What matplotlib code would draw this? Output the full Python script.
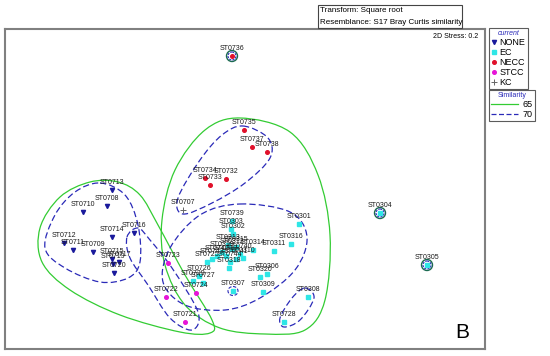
import numpy as np
import matplotlib.pyplot as plt
from matplotlib.path import Path
from matplotlib.patches import PathPatch, Ellipse
from matplotlib.lines import Line2D

plt.rcParams['font.family'] = ['Liberation Sans', 'DejaVu Sans']

# nMDS coordinates (arbitrary units, y grows downward)
none_names = ['ST0713', 'ST0708', 'ST0710', 'ST0714', 'ST0716', 'ST0712',
              'ST0711', 'ST0709', 'ST0715', 'ST0719', 'ST0717', 'ST0720']
none_x = [112, 107, 83, 112, 134, 64, 73, 93, 112, 113, 119, 114]
none_y = [190, 206, 212, 237, 233, 243, 250, 252, 259, 264, 262, 273]

ec_names = ['ST0739', 'ST0303', 'ST0302', 'ST0301', 'ST0316', 'ST0311',
            'ST0314', 'ST0740', 'ST0313', 'ST0312', 'ST0315', 'ST0319',
            'ST0317', 'ST0310', 'ST0741', 'ST0742', 'ST0743', 'ST0744',
            'ST0318', 'ST0306', 'ST0320', 'ST0309', 'ST0307', 'ST0725',
            'ST0726', 'ST0727', 'ST0729', 'ST0304', 'ST0305', 'ST0308',
            'ST0728']
ec_x = [232, 231, 233, 299, 291, 274, 253, 240, 228, 232, 236, 222, 226,
        243, 236, 217, 212, 230, 229, 267, 260, 263, 233, 207, 199, 203,
        193, 380, 427, 308, 284]
ec_y = [221, 229, 234, 224, 244, 251, 250, 254, 245, 249, 247, 252, 256,
        258, 259, 256, 259, 262, 268, 274, 277, 292, 291, 262, 276, 283,
        281, 213, 265, 297, 322]

necc_names = ['ST0736', 'ST0735', 'ST0737', 'ST0738', 'ST0734', 'ST0732', 'ST0733']
necc_x = [232, 244, 252, 267, 205, 226, 210]
necc_y = [56, 130, 147, 152, 178, 179, 185]

stcc_names = ['ST0723', 'ST0722', 'ST0721', 'ST0724']
stcc_x = [168, 166, 185, 196]
stcc_y = [263, 297, 322, 293]

kc_names = ['ST0707']
kc_x = [183]
kc_y = [210]

# similarity contours (outline vertices)
g65_a = [(40, 228), (60, 197), (90, 182), (118, 182), (140, 195), (158, 225),
         (185, 275), (212, 320), (210, 333), (180, 332), (120, 315), (70, 290), (42, 262)]
g65_b = [(240, 118), (290, 132), (318, 175), (330, 235), (325, 300), (305, 330),
         (265, 334), (220, 328), (185, 305), (165, 265), (162, 220), (175, 170), (205, 130)]
b70_none = [(100, 183), (125, 195), (138, 225), (140, 262), (128, 278), (100, 282),
            (65, 268), (45, 248), (55, 215), (75, 192)]
b70_stcc = [(127, 237), (138, 228), (150, 240), (172, 268), (198, 312), (192, 330),
            (170, 318), (148, 285), (130, 258)]
b70_necc = [(243, 126), (268, 138), (270, 158), (245, 183), (212, 203), (183, 214),
            (178, 198), (200, 160), (222, 135)]
b70_ec = [(240, 204), (290, 212), (307, 237), (295, 270), (260, 298), (225, 310),
          (185, 305), (163, 282), (170, 248), (200, 215)]
b70_pair = [(305, 288), (314, 298), (300, 320), (284, 327), (280, 318), (292, 298)]
single_sites = [(232, 56), (380, 213), (427, 265)]


def closed_curve(pts):
    p = np.array(pts, dtype=float)
    n = len(p)
    verts = [p[0]]
    codes = [Path.MOVETO]
    for i in range(n):
        p0, p1, p2, p3 = p[i - 1], p[i], p[(i + 1) % n], p[(i + 2) % n]
        verts += [p1 + (p2 - p0) / 6, p2 - (p3 - p1) / 6, p2]
        codes += [Path.CURVE4] * 3
    return Path(verts, codes)


fig = plt.figure(figsize=(5.5, 3.56), dpi=100)
ax = fig.add_axes([5 / 550, 1 - 349 / 356, 480 / 550, 320 / 356])
ax.set_xlim(5, 485)
ax.set_ylim(349, 29)
ax.set_xticks([])
ax.set_yticks([])
for s in ax.spines.values():
    s.set_color('#808080')
    s.set_linewidth(1.5)

green = '#33cc33'
blue = '#2a2ab8'
for pts in [g65_a, g65_b]:
    ax.add_patch(PathPatch(closed_curve(pts), fill=False, ec=green, lw=0.9))
for pts in [b70_none, b70_stcc, b70_necc, b70_ec, b70_pair]:
    ax.add_patch(PathPatch(closed_curve(pts), fill=False, ec=blue, lw=0.9,
                           ls=(0, (5, 2.5))))
for cx, cy in single_sites:
    ax.add_patch(Ellipse((cx, cy), 11, 11, fill=False, ec='#1a6a50', lw=1.0))
    ax.add_patch(Ellipse((cx, cy), 8, 8, fill=False, ec=blue, lw=0.8, ls=(0, (2, 1))))
ax.add_patch(Ellipse((233, 291), 10, 9, fill=False, ec=blue, lw=0.8, ls=(0, (3, 1.5))))

lab_fs = 5
groups = [
    (none_names, none_x, none_y, 'v', '#1a1a9c', 3.0),
    (ec_names, ec_x, ec_y, 's', '#2ee6e6', 2.6),
    (necc_names, necc_x, necc_y, 'o', '#e0102a', 2.6),
    (stcc_names, stcc_x, stcc_y, 'o', '#e614d8', 2.6),
]
for names, xs, ys, m, c, ms in groups:
    ax.plot(xs, ys, ls='none', marker=m, color=c, ms=ms, mec=c)
    for n, x, y in zip(names, xs, ys):
        ax.text(x, y - 4, n, fontsize=lab_fs, ha='center', va='bottom', color='#1a1a1a')
ax.plot(kc_x, kc_y, ls='none', marker='+', color='#666666', ms=4, mew=0.7)
for n, x, y in zip(kc_names, kc_x, kc_y):
    ax.text(x, y - 4, n, fontsize=lab_fs, ha='center', va='bottom', color='#1a1a1a')

ax.text(478, 37, '2D Stress: 0.2', fontsize=5, ha='right', va='center')
ax.text(462, 333, 'B', fontsize=15, ha='center', va='center')

fig.text(320 / 550, 1 - 11 / 356, 'Transform: Square root', fontsize=5.8, va='center')
fig.text(320 / 550, 1 - 22 / 356, 'Resemblance: S17 Bray Curtis similarity', fontsize=5.8,
         va='center')
fig.patches.append(plt.Rectangle((318 / 550, 1 - 28 / 356), 144 / 550, 23 / 356,
                                 transform=fig.transFigure, fill=False, ec='#444444',
                                 lw=0.8))

h1 = [Line2D([], [], ls='none', marker='v', color='#1a1a9c', ms=3),
      Line2D([], [], ls='none', marker='s', color='#2ee6e6', ms=2.6),
      Line2D([], [], ls='none', marker='o', color='#e0102a', ms=2.6),
      Line2D([], [], ls='none', marker='o', color='#e614d8', ms=2.6),
      Line2D([], [], ls='none', marker='+', color='#666666', ms=4, mew=0.7)]
leg1 = fig.legend(h1, ['NONE', 'EC', 'NECC', 'STCC', 'KC'], loc='upper left',
                  bbox_to_anchor=(489 / 550, 1 - 28 / 356), fontsize=6.5, title='current',
                  title_fontsize=5, frameon=True, fancybox=False, edgecolor='#333333',
                  handlelength=0.5, handletextpad=0.4, borderpad=0.25, labelspacing=0.1,
                  borderaxespad=0)
leg1.get_title().set_color('#2a2ab8')
leg1.get_title().set_style('italic')
leg1.get_frame().set_linewidth(0.8)

h2 = [Line2D([], [], color=green, lw=0.9),
      Line2D([], [], color=blue, lw=0.9, ls=(0, (4, 2)))]
leg2 = fig.legend(h2, ['65', '70'], loc='upper left', bbox_to_anchor=(489 / 550, 1 - 90 / 356),
                  fontsize=6.5, title='Similarity', title_fontsize=5, frameon=True,
                  fancybox=False, edgecolor='#333333', handlelength=3.0, handletextpad=0.5,
                  borderpad=0.25, labelspacing=0.1, borderaxespad=0)
leg2.get_title().set_color('#2a2ab8')
leg2.get_frame().set_linewidth(0.8)

fig.savefig('out.png', dpi=100)
